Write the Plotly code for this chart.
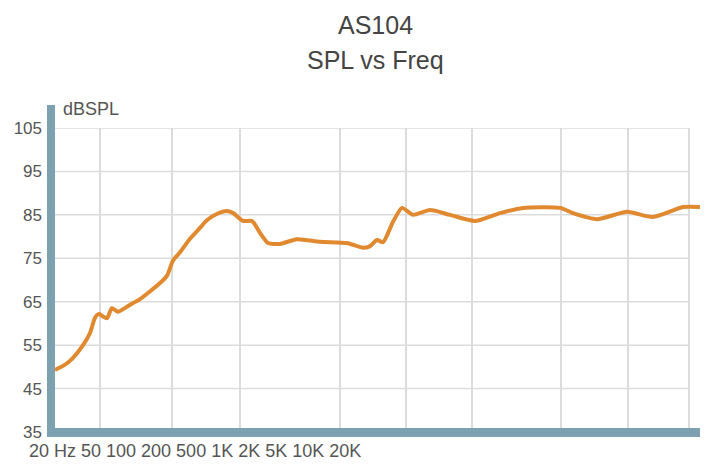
import plotly.graph_objects as go
import math

# ---- data ----
freq_hz = [20, 22.3, 24.2, 27.0, 29.1, 30.7, 32.0, 33.4, 34.9, 36.8, 39.3, 44.7, 49.7,
           61.6, 66.4, 70.8, 76.3, 84.9, 94.5, 102, 113, 126, 135, 150, 165, 180, 196,
           223, 267, 342, 456, 542, 584, 629, 671, 747, 822, 925, 1110, 1374, 1796,
           2348, 3004, 4466, 5134, 6636, 9152, 12090, 16668, 20000]
spl_db = [49.3, 50.5, 52.0, 55.0, 57.8, 61.3, 62.2, 61.6, 61.2, 63.5, 62.7, 64.3, 65.6,
          69.3, 71.0, 74.5, 76.4, 79.5, 82.0, 83.8, 85.2, 85.9, 85.4, 83.6, 83.6, 80.8, 78.5,
          78.3, 79.4, 78.8, 78.5, 77.4, 77.8, 79.2, 78.7, 83.4, 86.6, 85.0, 86.1, 85.0, 83.6,
          85.4, 86.6, 86.6, 85.4, 84.0, 85.7, 84.5, 86.8, 86.8]

y_ticks = [35, 45, 55, 65, 75, 85, 95, 105]
x_labels = ["20 Hz", "50", "100", "200", "500", "1K", "2K", "5K", "10K", "20K"]
grid_freqs = [32.4, 70.0, 145, 423, 858, 1740, 4514, 9252, 17776]

title_main = "AS104"
title_sub = "SPL vs Freq"
y_unit = "dBSPL"

# ---- layout geometry (pixels) ----
W, H = 710, 468
L, R, T, B = 55, 10, 128, 36
pw = W - L - R
ph = H - T - B

def px_x(p):
    return (p - L) / pw

def px_y(p):
    return (H - B - p) / ph

axis_col = "#7ea1b1"
grid_col = "#dcdcdc"
text_col = "#555555"
font_fam = "Liberation Sans, Arial, sans-serif"

fig = go.Figure()
fig.add_trace(go.Scatter(
    x=freq_hz, y=spl_db, mode="lines",
    line=dict(color="#e0892f", width=4, shape="spline", smoothing=0.6),
    hoverinfo="x+y", showlegend=False,
))

shapes = []
# horizontal gridlines (stop at the last vertical gridline)
right_grid = px_x(689)
for v in y_ticks:
    shapes.append(dict(type="line", xref="paper", yref="y", x0=0, x1=right_grid,
                       y0=v, y1=v, line=dict(color=grid_col, width=1.5), layer="below"))
# thick left axis
shapes.append(dict(type="rect", xref="paper", yref="paper",
                   x0=px_x(47), x1=px_x(55), y0=px_y(437), y1=px_y(105),
                   fillcolor=axis_col, line=dict(width=0), layer="above"))
# thick bottom axis
shapes.append(dict(type="rect", xref="paper", yref="paper",
                   x0=px_x(47), x1=px_x(700), y0=px_y(437), y1=px_y(428),
                   fillcolor=axis_col, line=dict(width=0), layer="above"))

annotations = [
    dict(text=title_main, xref="paper", yref="paper", x=px_x(375), y=px_y(25),
         xanchor="center", yanchor="middle", showarrow=False,
         font=dict(size=25, color="#444444", family=font_fam)),
    dict(text=title_sub, xref="paper", yref="paper", x=px_x(375), y=px_y(60),
         xanchor="center", yanchor="middle", showarrow=False,
         font=dict(size=25, color="#444444", family=font_fam)),
    dict(text=y_unit, xref="paper", yref="paper", x=px_x(61), y=px_y(109),
         xanchor="left", yanchor="middle", showarrow=False,
         font=dict(size=18, color=text_col, family=font_fam)),
    dict(text=" ".join(x_labels), xref="paper", yref="paper", x=px_x(27), y=px_y(451),
         xanchor="left", yanchor="middle", showarrow=False,
         font=dict(size=18, color=text_col, family=font_fam)),
]

fig.update_layout(
    width=W, height=H,
    margin=dict(l=L, r=R, t=T, b=B, pad=0),
    paper_bgcolor="white", plot_bgcolor="white",
    shapes=shapes, annotations=annotations,
    xaxis=dict(type="log", range=[math.log10(20), math.log10(20000)],
               tickvals=grid_freqs, showticklabels=False, ticks="",
               showgrid=True, gridcolor=grid_col, gridwidth=1.5,
               zeroline=False, showline=False, fixedrange=True),
    yaxis=dict(range=[35, 105], tickvals=y_ticks, ticktext=[str(v) for v in y_ticks],
               showgrid=False, zeroline=False, showline=False, ticks="",
               ticklabelstandoff=12,
               tickfont=dict(size=17, color=text_col, family=font_fam), fixedrange=True),
)

fig.write_html("out.html")
